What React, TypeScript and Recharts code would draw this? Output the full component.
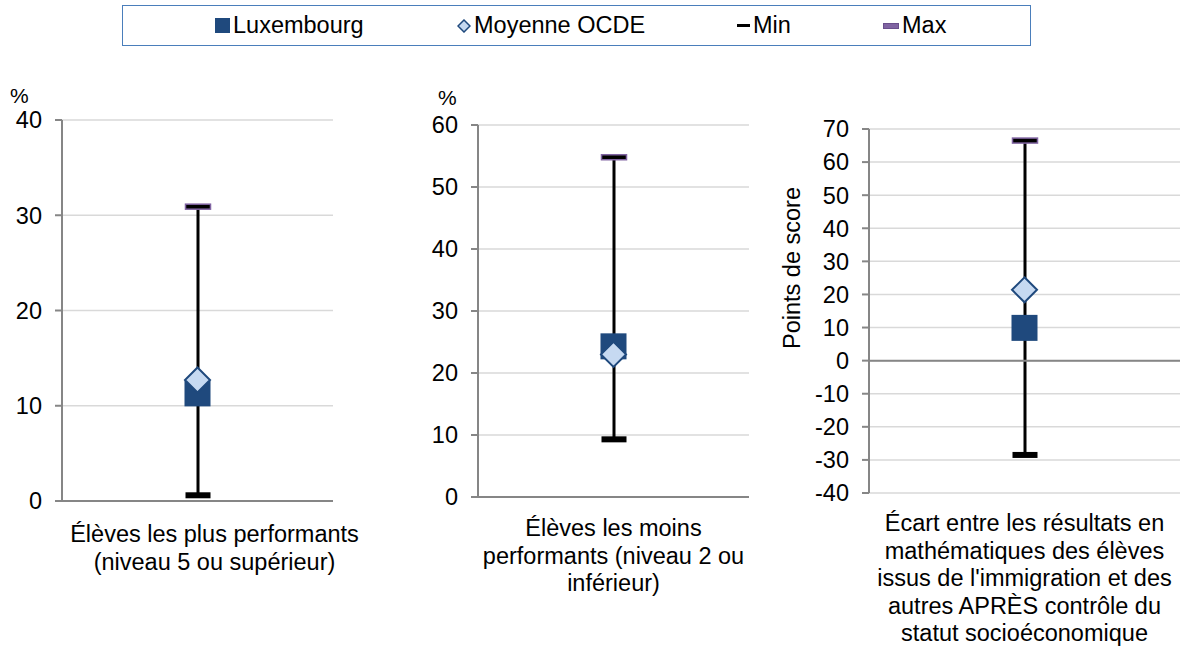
import {
  ComposedChart,
  Bar,
  Line,
  XAxis,
  YAxis,
  CartesianGrid,
  ReferenceLine,
} from "recharts";

// Libellés des trois panneaux (retours à la ligne comme dans l'original)
const panelLabels = [
  ["Élèves les plus performants", "(niveau 5 ou supérieur)"],
  ["Élèves les moins", "performants (niveau 2 ou", "inférieur)"],
  [
    "Écart entre les résultats en",
    "mathématiques des élèves",
    "issus de l'immigration et des",
    "autres APRÈS contrôle du",
    "statut socioéconomique",
  ],
];

// Valeurs
const luxembourg = [11.3, 24.3, 9.9];
const moyenneOcde = [12.7, 23.0, 21.4];
const minValues = [0.6, 9.3, -28.5];
const maxValues = [30.9, 54.8, 66.5];

const ticksPanel1 = [0, 10, 20, 30, 40];
const ticksPanel2 = [0, 10, 20, 30, 40, 50, 60];
const ticksPanel3 = [-40, -30, -20, -10, 0, 10, 20, 30, 40, 50, 60, 70];
const unitLabels = ["%", "%", "Points de score"];

const NAVY = "#1f497d";
const LIGHT = "#c6d9f1";
const PURPLE = "#8064a2";
const AXIS = "#868686";
const GRID = "#d9d9d9";
const FONT = "'Liberation Sans', Arial, sans-serif";
const FS = 23.5;

function RangeShape(props: any) {
  const { x, y, width, height } = props;
  if (x == null || y == null) return null;
  const cx = x + width / 2;
  const top = Math.min(y, y + height);
  const bottom = Math.max(y, y + height);
  const capW = 25;
  return (
    <g>
      <line x1={cx} x2={cx} y1={top} y2={bottom} stroke="#000" strokeWidth={3} />
      <rect x={cx - capW / 2} y={bottom - 3} width={capW} height={6} fill="#000" />
      <rect
        x={cx - capW / 2}
        y={top - 2.5}
        width={capW}
        height={5}
        fill="#000"
        stroke={PURPLE}
        strokeWidth={1.5}
      />
    </g>
  );
}

function SquareDot(props: any) {
  const { cx, cy } = props;
  if (cx == null || cy == null) return null;
  return <rect x={cx - 13} y={cy - 13} width={26} height={26} fill={NAVY} />;
}

function DiamondDot(props: any) {
  const { cx, cy } = props;
  if (cx == null || cy == null) return null;
  const r = 12.5;
  return (
    <polygon
      points={`${cx},${cy - r} ${cx + r},${cy} ${cx},${cy + r} ${cx - r},${cy}`}
      fill={LIGHT}
      stroke={NAVY}
      strokeWidth={2}
    />
  );
}

function CategoryTick(props: any) {
  const { x, y, lines, shift, offset } = props;
  return (
    <text
      x={x + (shift || 0)}
      y={y + offset}
      textAnchor="middle"
      fontFamily={FONT}
      fontSize={FS}
      fill="#000"
    >
      {lines.map((l: string, i: number) => (
        <tspan key={i} x={x + (shift || 0)} dy={i === 0 ? 0 : 27.6}>
          {l}
        </tspan>
      ))}
    </text>
  );
}

function UnitLabel(props: any) {
  const { viewBox, text, dx, dy, vertical } = props;
  if (!viewBox) return null;
  if (vertical) {
    const px = viewBox.x + dx;
    const py = viewBox.y + viewBox.height / 2 + dy;
    return (
      <text
        x={px}
        y={py}
        transform={`rotate(-90, ${px}, ${py})`}
        textAnchor="middle"
        dominantBaseline="central"
        fontFamily={FONT}
        fontSize={FS}
        fill="#000"
      >
        {text}
      </text>
    );
  }
  return (
    <text
      x={viewBox.x + dx}
      y={viewBox.y + dy}
      fontFamily={FONT}
      fontSize={21}
      fill="#000"
    >
      {text}
    </text>
  );
}

type PanelProps = {
  index: number;
  left: number;
  width: number;
  margin: { top: number; right: number; bottom: number; left: number };
  yAxisWidth: number;
  xAxisHeight: number;
  ticks: number[];
  unit: any;
  labelShift?: number;
  labelOffset: number;
  zeroLine?: boolean;
};

function Panel({
  index,
  left,
  width,
  margin,
  yAxisWidth,
  xAxisHeight,
  ticks,
  unit,
  labelShift,
  labelOffset,
  zeroLine,
}: PanelProps) {
  const data = [
    {
      cat: panelLabels[index][0],
      range: [minValues[index], maxValues[index]],
      lux: luxembourg[index],
      ocde: moyenneOcde[index],
    },
  ];
  return (
    <div style={{ position: "absolute", left, top: 0 }}>
      <ComposedChart width={width} height={646} data={data} margin={margin}>
        <CartesianGrid vertical={false} stroke={GRID} strokeWidth={1.5} />
        <XAxis
          dataKey="cat"
          height={xAxisHeight}
          axisLine={zeroLine ? false : { stroke: AXIS, strokeWidth: 2 }}
          tickLine={false}
          tickSize={0}
          interval={0}
          tick={
            <CategoryTick
              lines={panelLabels[index]}
              shift={labelShift}
              offset={labelOffset}
            />
          }
        />
        <YAxis
          width={yAxisWidth}
          domain={[ticks[0], ticks[ticks.length - 1]]}
          ticks={ticks}
          allowDataOverflow
          axisLine={{ stroke: AXIS, strokeWidth: 2 }}
          tickLine={{ stroke: AXIS, strokeWidth: 2 }}
          tickSize={7}
          tickMargin={13}
          tick={{ fontSize: FS, fill: "#000", fontFamily: FONT }}
          label={unit}
        />
        {zeroLine && <ReferenceLine y={0} stroke={AXIS} strokeWidth={2} />}
        <Bar
          dataKey="range"
          barSize={26}
          shape={<RangeShape />}
          isAnimationActive={false}
        />
        <Line
          dataKey="lux"
          stroke="none"
          dot={<SquareDot />}
          activeDot={false}
          isAnimationActive={false}
        />
        <Line
          dataKey="ocde"
          stroke="none"
          dot={<DiamondDot />}
          activeDot={false}
          isAnimationActive={false}
        />
      </ComposedChart>
    </div>
  );
}

function LegendBox() {
  const item = (left: number, marker: any, text: string) => (
    <div
      style={{
        position: "absolute",
        left,
        top: 0,
        height: 39,
        display: "flex",
        alignItems: "center",
      }}
    >
      {marker}
      <span style={{ fontSize: FS, marginLeft: 3 }}>{text}</span>
    </div>
  );
  return (
    <div
      style={{
        position: "absolute",
        left: 122,
        top: 5,
        width: 907,
        height: 39,
        border: "1.5px solid #4a7ebb",
        color: "#000",
      }}
    >
      {item(92, <div style={{ width: 15, height: 15, background: NAVY }} />, "Luxembourg")}
      {item(
        334,
        <svg width={14} height={14}>
          <polygon points="7,1 13,7 7,13 1,7" fill={LIGHT} stroke={NAVY} strokeWidth={1.5} />
        </svg>,
        "Moyenne OCDE"
      )}
      {item(614, <div style={{ width: 13, height: 3, background: "#000" }} />, "Min")}
      {item(
        760,
        <div style={{ width: 14, height: 4, background: PURPLE, border: "0.5px solid #6a4f8c" }} />,
        "Max"
      )}
    </div>
  );
}

export default function App() {
  return (
    <div
      style={{
        position: "absolute",
        left: 0,
        top: 0,
        width: 1180,
        height: 646,
        background: "#fff",
        fontFamily: FONT,
        overflow: "hidden",
      }}
    >
      <LegendBox />
      <Panel
        index={0}
        left={0}
        width={385}
        margin={{ top: 120, right: 52, bottom: 45, left: 0 }}
        yAxisWidth={62}
        xAxisHeight={100}
        ticks={ticksPanel1}
        labelShift={17}
        labelOffset={39}
        unit={<UnitLabel text={unitLabels[0]} dx={10} dy={-17} />}
      />
      <Panel
        index={1}
        left={400}
        width={360}
        margin={{ top: 125, right: 11, bottom: 49, left: 0 }}
        yAxisWidth={78}
        xAxisHeight={100}
        ticks={ticksPanel2}
        labelOffset={37}
        unit={<UnitLabel text={unitLabels[1]} dx={38} dy={-20} />}
      />
      <Panel
        index={2}
        left={770}
        width={410}
        margin={{ top: 129, right: 0, bottom: 13, left: 0 }}
        yAxisWidth={99}
        xAxisHeight={140}
        ticks={ticksPanel3}
        zeroLine
        labelOffset={36}
        unit={<UnitLabel text={unitLabels[2]} dx={22} dy={-43} vertical />}
      />
    </div>
  );
}
